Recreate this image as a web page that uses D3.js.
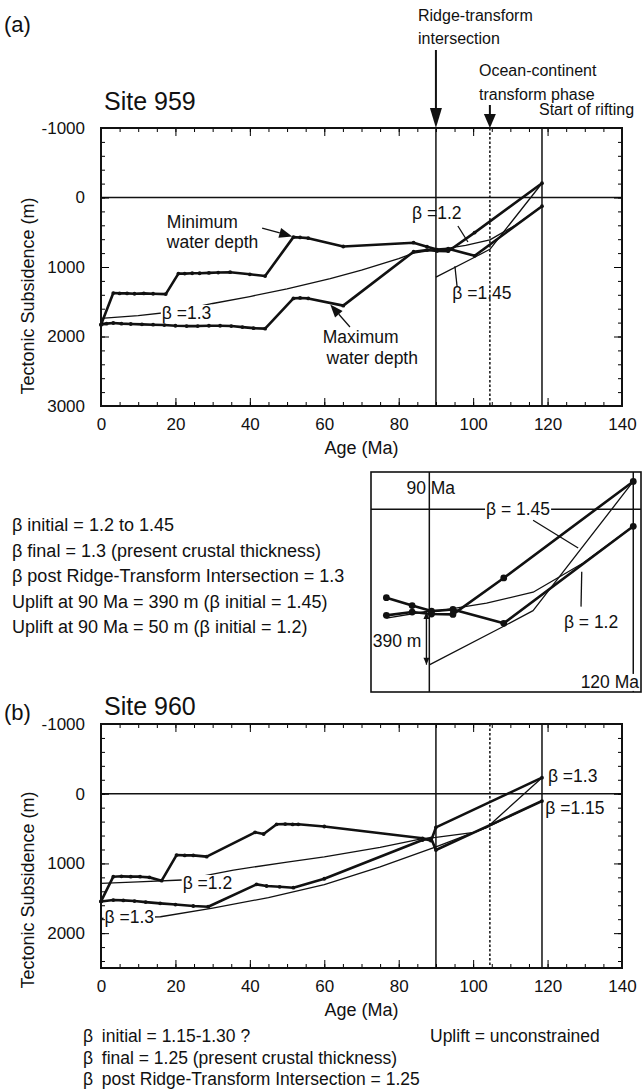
<!DOCTYPE html>
<html>
<head>
<meta charset="utf-8">
<script src="https://cdn.jsdelivr.net/npm/d3@7"></script>
<style>
body { margin: 0; background: #fff; }
svg text { font-family: "Liberation Sans", Arial, Helvetica, sans-serif; fill: #111; }
</style>
</head>
<body>
<svg id="fig" width="643" height="1091"></svg>
<script>
'use strict';

// ages in Ma, tectonic subsidence in m (negative = above sea level)
const ageTicks = [0, 20, 40, 60, 80, 100, 120, 140];
const ageMinorTicks = d3.range(0, 141, 5);
const depthTicks959 = [-1000, 0, 1000, 2000, 3000];
const depthTicks960 = [-1000, 0, 1000, 2000];
const ridgeAge = 90, oceanContinentAge = 104.5, riftAge = 118.5;

// Site 959
const minDepth959 = [[0,1830],[3.3,1375],[5,1380],[7,1380],[9,1385],[11.5,1380],[14,1385],[17.4,1390],
  [20.8,1095],[22.5,1095],[24.5,1090],[26.5,1090],[29,1085],[31.5,1080],[34.7,1075],[40,1105],[44.1,1130],
  [51.7,570],[53.5,575],[55.7,585],[65.1,705],[84,650],[87.6,708],[90.3,749],[93.3,737],[100.4,839],[118.5,125]];
const maxDepth959 = [[0,1830],[1.5,1815],[3.3,1806],[5.5,1815],[8,1820],[11,1825],[14,1830],[17,1835],
  [20,1845],[23,1850],[26,1850],[29,1845],[32,1845],[35,1850],[38,1865],[41,1880],[44.1,1887],
  [51.7,1452],[53.5,1445],[55.7,1452],[65.1,1556],[84,780],[87.6,756],[90.3,770],[93.3,773],[100.4,505],[118.5,-205]];
const beta13_959 = [[0,1740],[10,1700],[20,1640],[30,1525],[40,1425],[50,1315],[61.6,1168],[70,1045],[80,880],[84,800],[90,748]];
const beta12_959 = [[90,758],[98,690],[104.5,610],[111.5,395],[118.5,125]];
const beta145_959 = [[90,1145],[100.4,860],[104.5,745],[118.5,-205]];
const uplift390 = [89.6, 755, 1143];

// Site 960
const minDepth960 = [[0,1545],[3.3,1190],[5.5,1185],[8,1190],[10.5,1190],[13,1200],[16.3,1248],
  [20.3,880],[22.5,885],[24.8,885],[28.4,903],[41.4,554],[43.7,578],[47.2,439],[49.5,435],[51.5,440],[53,439],
  [60,470],[86.4,640],[88.7,674],[90,482],[118.5,-230]];
const maxDepth960 = [[0,1545],[3.3,1525],[6,1530],[9,1540],[12,1555],[15.9,1573],[20,1590],[24.8,1611],[28.8,1621],
  [41.8,1300],[44.5,1324],[48,1335],[51.7,1348],[60,1220],[86.4,664],[88.7,640],[90,808],[118.5,105]];
const beta12_960 = [[0,1286],[10,1265],[21.7,1238],[35.6,1095],[50,980],[60,905],[75,770],[86.4,645],
  [90,625],[100.3,555],[103.7,484],[118.5,-230]];
const beta13_960 = [[0,1790],[16,1765],[30,1640],[45,1490],[60,1305],[75,1050],[90,762],[103.7,484],[118.5,105]];

const ink = '#111';
const svg = d3.select('#fig');

function curve(g, x, y, data, w) {
    g.append('path').datum(data)
        .attr('fill', 'none').attr('stroke', ink).attr('stroke-width', w)
        .attr('stroke-linejoin', 'round')
        .attr('d', d3.line().x(d => x(d[0])).y(d => y(d[1])));
}

function dots(g, x, y, data, r) {
    g.append('g').selectAll('circle').data(data).join('circle')
        .attr('cx', d => x(d[0])).attr('cy', d => y(d[1])).attr('r', r).attr('fill', ink);
}

function text(g, x, y, str, size, anchor, boxed) {
    const t = g.append('text').attr('x', x).attr('y', y).attr('font-size', size)
        .attr('text-anchor', anchor || 'start').text(str);
    if (boxed) {
        const b = t.node().getBBox();
        g.insert('rect', () => t.node())
            .attr('x', b.x - 1).attr('y', b.y + 2).attr('width', b.width + 2).attr('height', b.height - 3)
            .attr('fill', '#fff');
    }
    return t;
}

function seg(g, x1, y1, x2, y2, w, dash) {
    g.append('line').attr('x1', x1).attr('y1', y1).attr('x2', x2).attr('y2', y2)
        .attr('stroke', ink).attr('stroke-width', w).attr('stroke-dasharray', dash || null);
}

function arrow(g, x1, y1, x2, y2, len, half, w) {
    const a = Math.atan2(y2 - y1, x2 - x1);
    const bx = x2 - len * Math.cos(a), by = y2 - len * Math.sin(a);
    seg(g, x1, y1, bx, by, w);
    const px = -Math.sin(a) * half, py = Math.cos(a) * half;
    g.append('path').attr('d', `M${x2},${y2}L${bx + px},${by + py}L${bx - px},${by - py}Z`).attr('fill', ink);
}

function axes(g, x, y, yMajor) {
    const [x0, x1] = x.range(), [y0, y1] = y.range();
    const [d0, d1] = y.domain();
    const yMinor = d3.range(d0, d1 + 1, 200);
    const tidy = s => s.call(a => a.select('.domain').remove())
        .attr('font-family', null).attr('font-size', 17);
    const fmt = d => String(d);

    g.append('g').attr('transform', `translate(0,${y1})`)
        .call(d3.axisBottom(x).tickValues(ageMinorTicks).tickSize(-4).tickFormat('')).call(tidy);
    g.append('g').attr('transform', `translate(0,${y1})`)
        .call(d3.axisBottom(x).tickValues(ageTicks).tickSize(-8).tickPadding(12).tickFormat(fmt)).call(tidy);
    g.append('g').attr('transform', `translate(0,${y0})`)
        .call(d3.axisTop(x).tickValues(ageMinorTicks).tickSize(-4).tickFormat('')).call(tidy);
    g.append('g').attr('transform', `translate(0,${y0})`)
        .call(d3.axisTop(x).tickValues(ageTicks).tickSize(-8).tickFormat('')).call(tidy);

    g.append('g').attr('transform', `translate(${x0},0)`)
        .call(d3.axisLeft(y).tickValues(yMinor).tickSize(-4).tickFormat('')).call(tidy);
    g.append('g').attr('transform', `translate(${x0},0)`)
        .call(d3.axisLeft(y).tickValues(yMajor).tickSize(-8).tickPadding(16).tickFormat(fmt)).call(tidy);
    g.append('g').attr('transform', `translate(${x1},0)`)
        .call(d3.axisRight(y).tickValues(yMinor).tickSize(-4).tickFormat('')).call(tidy);
    g.append('g').attr('transform', `translate(${x1},0)`)
        .call(d3.axisRight(y).tickValues(yMajor).tickSize(-8).tickFormat('')).call(tidy);

    g.append('rect').attr('x', x0).attr('y', y0).attr('width', x1 - x0).attr('height', y1 - y0)
        .attr('fill', 'none').attr('stroke', ink).attr('stroke-width', 2);

    text(g, (x0 + x1) / 2, y1 + 48, 'Age (Ma)', 18, 'middle');
}

function events(g, x, y) {
    const [y0, y1] = y.range();
    seg(g, x.range()[0], y(0), x.range()[1], y(0), 1.4);
    seg(g, x(ridgeAge), y0, x(ridgeAge), y1, 1.5);
    seg(g, x(oceanContinentAge), y0, x(oceanContinentAge), y1, 1.5, '2.5,2');
    seg(g, x(riftAge), y0, x(riftAge), y1, 1.5);
}

function yTitle(g, cy) {
    text(g, 0, 0, 'Tectonic Subsidence (m)', 18, 'middle')
        .attr('transform', `translate(34,${cy}) rotate(-90)`);
}

// ---------- (a) Site 959 ----------
const xa = d3.scaleLinear([0, 140], [101, 622]);
const ya = d3.scaleLinear([-1000, 3000], [128, 406]);
const ga = svg.append('g');

text(ga, 4, 32, '(a)', 22);
text(ga, 104, 110, 'Site 959', 25);
text(ga, 418, 21, 'Ridge-transform', 16);
text(ga, 418, 44, 'intersection', 16);
text(ga, 479, 76, 'Ocean-continent', 16);
text(ga, 479, 100, 'transform phase', 16);
text(ga, 539, 115, 'Start of rifting', 16);
arrow(ga, xa(ridgeAge), 50, xa(ridgeAge), 128, 20, 6, 2);
arrow(ga, xa(oceanContinentAge), 105, xa(oceanContinentAge), 128, 14, 6, 2);

events(ga, xa, ya);
curve(ga, xa, ya, beta13_959, 1.3);
curve(ga, xa, ya, beta12_959, 1.3);
curve(ga, xa, ya, beta145_959, 1.3);
curve(ga, xa, ya, minDepth959, 2.6);
curve(ga, xa, ya, maxDepth959, 2.6);
dots(ga, xa, ya, minDepth959, 1.9);
dots(ga, xa, ya, maxDepth959, 1.9);

text(ga, xa(17.7), ya(439), 'Minimum', 17.5);
text(ga, xa(17.7), ya(727), 'water depth', 17.5);
arrow(ga, xa(43.3), ya(439), xa(51.4), ya(560), 13, 5, 1.3);
text(ga, xa(59.6), ya(2100), 'Maximum', 17.5);
text(ga, xa(60.6), ya(2390), 'water depth', 17.5);
arrow(ga, xa(66.9), ya(1863), xa(61.6), ya(1540), 13, 5, 1.3);
text(ga, xa(23), ya(1748), 'β =1.3', 17.5, 'middle', true);
text(ga, xa(83.6), ya(309), 'β =1.2', 17.5);
seg(ga, xa(95.9), ya(410), xa(98.6), ya(640), 1.3);
text(ga, xa(94.4), ya(1460), 'β =1.45', 17.5);
seg(ga, xa(95.7), ya(1290), xa(95.1), ya(990), 1.3);

axes(ga, xa, ya, depthTicks959);
yTitle(ga, 296);

const notes959 = ['β initial = 1.2 to 1.45', 'β final = 1.3 (present crustal thickness)',
    'β post Ridge-Transform Intersection = 1.3', 'Uplift at 90 Ma = 390 m (β initial = 1.45)',
    'Uplift at 90 Ma = 50 m (β initial = 1.2)'];
notes959.forEach((s, i) => text(ga, 12, 531 + i * 25.5, s, 18));

// ---------- inset: zoom around the ridge-transform intersection ----------
const xi = d3.scaleLinear([81.85, 119.58], [371, 641]);
const yi = d3.scaleLinear([-274.5, 1344], [472, 692]);
const gi = svg.append('g');
gi.append('clipPath').attr('id', 'insetClip').append('rect')
    .attr('x', 371).attr('y', 472).attr('width', 270).attr('height', 220);
const gic = gi.append('g').attr('clip-path', 'url(#insetClip)');
const near = d => d.filter(p => p[0] >= 84);
seg(gic, 371, yi(0), 641, yi(0), 1.4);
seg(gic, xi(ridgeAge), 472, xi(ridgeAge), 692, 1.5);
seg(gic, xi(riftAge), 472, xi(riftAge), 692, 1.5);
curve(gic, xi, yi, near(beta13_959), 1.3);
curve(gic, xi, yi, beta12_959, 1.3);
curve(gic, xi, yi, beta145_959, 1.3);
curve(gic, xi, yi, near(minDepth959), 2.6);
curve(gic, xi, yi, near(maxDepth959), 2.6);
dots(gic, xi, yi, near(minDepth959), 3.4);
dots(gic, xi, yi, near(maxDepth959), 3.4);

text(gi, xi(90.2), yi(-113), '90 Ma', 17.5, 'middle');
text(gi, xi(102.4), yi(44), 'β = 1.45', 17.5, 'middle', true);
seg(gi, xi(104.5), yi(80), xi(110.8), yi(285), 1.3);
text(gi, xi(112.6), yi(872), 'β = 1.2', 17.5, 'middle');
seg(gi, xi(111.2), yi(716), xi(111.3), yi(459), 1.3);
text(gi, xi(82.1), yi(1015), '390 m', 17.5);
arrow(gi, xi(uplift390[0]), yi(uplift390[1]), xi(uplift390[0]), yi(uplift390[2]), 7, 3, 1.2);
arrow(gi, xi(uplift390[0]), yi(uplift390[2]), xi(uplift390[0]), yi(uplift390[1]), 7, 3, 1.2);
text(gi, 639, yi(1314), '120 Ma', 17.5, 'end', true);
gi.append('rect').attr('x', 371).attr('y', 472).attr('width', 270).attr('height', 220)
    .attr('fill', 'none').attr('stroke', ink).attr('stroke-width', 1.6);

// ---------- (b) Site 960 ----------
const xb = d3.scaleLinear([0, 140], [101, 622]);
const yb = d3.scaleLinear([-1000, 2500], [724, 968]);
const gb = svg.append('g');

text(gb, 4, 720, '(b)', 22);
text(gb, 104, 715, 'Site 960', 25);

events(gb, xb, yb);
curve(gb, xb, yb, beta12_960, 1.3);
curve(gb, xb, yb, beta13_960, 1.3);
curve(gb, xb, yb, minDepth960, 2.6);
curve(gb, xb, yb, maxDepth960, 2.6);
dots(gb, xb, yb, minDepth960, 1.9);
dots(gb, xb, yb, maxDepth960, 1.9);

text(gb, xb(28.6), yb(1367), 'β =1.2', 17.5, 'middle', true);
text(gb, xb(7.6), yb(1855), 'β =1.3', 17.5, 'middle', true);
text(gb, xb(120.1), yb(-170), 'β =1.3', 17.5);
text(gb, xb(119.4), yb(292), 'β =1.15', 17.5);

axes(gb, xb, yb, depthTicks960);
yTitle(gb, 890);

const notes960 = ['β\u2002initial = 1.15-1.30 ?', 'β\u2002final = 1.25 (present crustal thickness)',
    'β\u2002post Ridge-Transform Intersection = 1.25'];
notes960.forEach((s, i) => text(gb, 83, 1042 + i * 21.5, s, 17.5));
text(gb, 430, 1042, 'Uplift = unconstrained', 17.5);
</script>
</body>
</html>
